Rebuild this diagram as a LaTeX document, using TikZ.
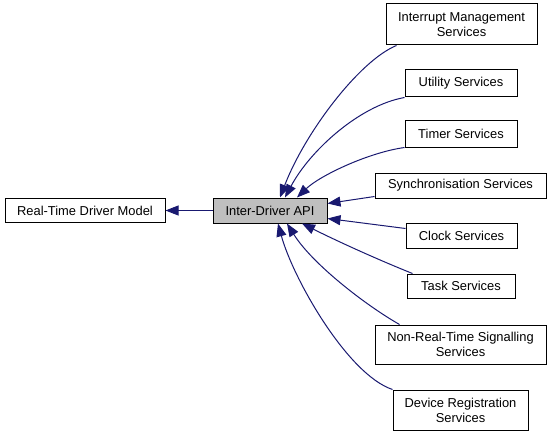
\documentclass[tikz,border=0pt]{standalone}
\usepackage{fontspec}
\setmainfont{Liberation Sans}
\usetikzlibrary{arrows.meta}
\definecolor{edgeblue}{RGB}{25,25,112}
\definecolor{currentgray}{RGB}{191,191,191}

\begin{document}
\begin{tikzpicture}[
    x=1pt, y=-1pt,
    every node/.style={align=center},
    groupbox/.style={rectangle, draw=black, fill=white, line width=1pt, inner sep=0pt, font=\fontsize{12.9}{15}\selectfont},
    currentbox/.style={groupbox, fill=currentgray},
    edge/.style={-{Triangle[length=13pt,width=10pt]}, draw=edgeblue, line width=1pt}
]
\useasboundingbox (0,0) rectangle (552,436);

% Left side - parent group and the current group
\node[groupbox, minimum width=160pt, minimum height=24pt] (rtdm) at (85,210.5) {Real-Time Driver Model};
\node[currentbox, minimum width=114pt, minimum height=25pt] (idapi) at (270,210.5) {Inter-Driver API};

% Right side - sub groups
\node[groupbox, minimum width=151pt, minimum height=41pt] (intr) at (461.5,24.5) {Interrupt Management\\Services};
\node[groupbox, minimum width=112pt, minimum height=27pt] (util) at (461,83.5) {Utility Services};
\node[groupbox, minimum width=112pt, minimum height=27pt] (timer) at (461,133.5) {Timer Services};
\node[groupbox, minimum width=171pt, minimum height=25pt] (sync) at (460.5,185.5) {Synchronisation Services};
\node[groupbox, minimum width=111pt, minimum height=25pt] (clock) at (461.5,235.5) {Clock Services};
\node[groupbox, minimum width=108pt, minimum height=24pt] (task) at (461,286) {Task Services};
\node[groupbox, minimum width=171pt, minimum height=39pt] (nrt) at (460.5,344.5) {Non-Real-Time Signalling\\Services};
\node[groupbox, minimum width=135pt, minimum height=40pt] (devreg) at (460.5,410) {Device Registration\\Services};

% Edges into the current group
\draw[edge] (idapi) -- (rtdm);
\draw[edge] ([xshift=11pt]intr.south west) .. controls +(-37,15) and +(25,-65) .. ([xshift=10pt]idapi.north);
\draw[edge] (util.south west) .. controls +(-45,8) and +(25,-47) .. ([xshift=15pt]idapi.north);
\draw[edge] (timer.south west) .. controls +(-36,5) and +(23,-22) .. ([xshift=27pt]idapi.north);
\draw[edge] ([yshift=2pt]sync.south west) -- ([yshift=7pt]idapi.east);
\draw[edge] ([yshift=7pt]clock.west) -- ([yshift=-8pt]idapi.east);
\draw[edge] ([xshift=6pt]task.north west) .. controls +(-30,-12) and +(40,20) .. ([xshift=32pt]idapi.south);
\draw[edge] ([xshift=25pt]nrt.north west) .. controls +(-35,-20) and +(25,40) .. ([xshift=17pt]idapi.south);
\draw[edge] (devreg.north west) .. controls +(-45,-15) and +(15,55) .. ([xshift=8pt]idapi.south);

\end{tikzpicture}
\end{document}
